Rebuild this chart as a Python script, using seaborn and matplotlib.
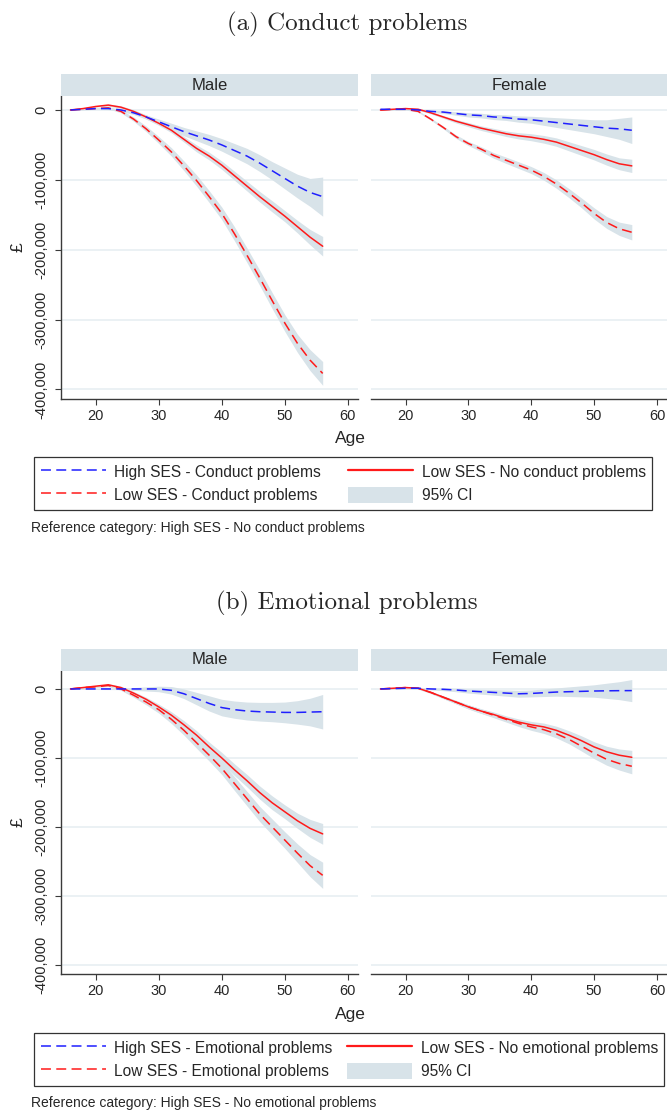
import numpy as np
import pandas as pd
import seaborn as sns
import matplotlib
matplotlib.use("Agg")
import matplotlib.pyplot as plt
from matplotlib.lines import Line2D
from matplotlib.patches import Patch, Rectangle

# ---------------- data ----------------
ages = [16, 18, 20, 22, 24, 26, 28, 30, 32, 34, 36, 38, 40, 42, 44, 46, 48, 50, 52, 54, 56]

# (a) Conduct problems - Male
cm_hs_cp = [0, 1000, 2000, 2000, 0, -4000, -10000, -17000, -24000, -31000, -37000, -43000, -50000, -58000, -66000, -76000, -87000, -98000, -109000, -118000, -124000]
cm_hs_cp_hw = [500, 800, 1000, 1500, 2000, 2500, 3000, 4000, 5000, 6000, 7000, 8000, 9000, 10000, 11000, 12000, 13000, 15000, 17000, 20000, 28000]
cm_ls_cp = [0, 1000, 2000, 3000, -2000, -13000, -27000, -43000, -60000, -80000, -101000, -124000, -148000, -177000, -208000, -240000, -273000, -305000, -334000, -358000, -377000]
cm_ls_cp_hw = [500, 800, 1000, 1500, 2000, 3000, 4000, 5000, 6000, 7000, 8000, 8500, 9000, 10000, 10500, 11000, 11500, 12000, 13000, 15000, 17000]
cm_ls_nc = [0, 2000, 5000, 7000, 4000, -2000, -10000, -19000, -29000, -42000, -55000, -66000, -79000, -94000, -109000, -124000, -138000, -152000, -167000, -182000, -195000]
cm_ls_nc_hw = [500, 800, 1000, 1500, 2000, 2500, 3000, 3000, 3500, 4000, 5000, 5500, 6000, 6500, 7000, 7500, 8000, 8000, 9000, 11000, 14000]

# (a) Conduct problems - Female
cf_hs_cp = [1000, 1000, 1000, 0, -2000, -3000, -5000, -7000, -8000, -10000, -11000, -13000, -14000, -16000, -18000, -20000, -22000, -24000, -26000, -27000, -29000]
cf_hs_cp_hw = [500, 800, 1000, 1200, 1500, 2000, 2500, 3000, 3300, 3700, 4000, 4500, 5000, 6000, 7000, 8000, 9000, 10000, 12000, 15000, 19000]
cf_ls_cp = [0, 1000, 1000, -2000, -13000, -25000, -38000, -48000, -56000, -65000, -72000, -79000, -86000, -95000, -106000, -119000, -133000, -148000, -161000, -170000, -175000]
cf_ls_cp_hw = [500, 800, 1000, 1200, 1500, 2000, 2500, 3000, 3500, 4000, 4500, 4800, 5000, 5500, 6000, 6500, 7000, 8000, 8500, 9500, 11000]
cf_ls_nc = [0, 1000, 2000, 1000, -4000, -10000, -16000, -21000, -26000, -30000, -34000, -37000, -39000, -42000, -46000, -52000, -58000, -64000, -71000, -77000, -80000]
cf_ls_nc_hw = [500, 800, 1000, 1200, 1500, 2000, 2500, 3000, 3300, 3700, 4000, 4500, 5000, 5500, 6000, 6500, 7000, 7500, 8000, 8500, 9500]

# (b) Emotional problems - Male
em_hs_ep = [0, 0, 0, 0, 0, 0, 0, 0, -2000, -7000, -14000, -21000, -27000, -30000, -32000, -33000, -33500, -34000, -34000, -33500, -33000]
em_hs_ep_hw = [500, 700, 800, 900, 1000, 2000, 3000, 4000, 5500, 7000, 9000, 11000, 12000, 12500, 13000, 13500, 14000, 15000, 17000, 20000, 25000]
em_ls_ep = [0, 2000, 3000, 5000, 0, -9000, -19000, -30000, -44000, -60000, -78000, -96000, -115000, -137000, -159000, -181000, -200000, -219000, -238000, -256000, -270000]
em_ls_ep_hw = [500, 800, 1000, 1500, 2000, 3000, 4000, 5000, 6000, 7000, 8000, 8500, 9000, 10000, 10500, 11000, 11500, 12000, 13500, 16000, 19000]
em_ls_ne = [0, 2000, 4000, 6000, 2000, -6000, -15000, -26000, -38000, -52000, -67000, -84000, -100000, -117000, -133000, -150000, -165000, -178000, -191000, -202000, -210000]
em_ls_ne_hw = [500, 800, 1000, 1500, 2000, 2500, 3000, 4000, 5000, 6000, 6500, 7000, 8000, 8500, 9000, 9500, 10000, 10000, 11000, 13000, 15000]

# (b) Emotional problems - Female
ef_hs_ep = [0, 500, 1000, 1000, 0, -500, -1500, -3000, -4000, -5000, -6000, -7000, -6500, -5500, -4500, -4000, -3500, -3000, -2700, -2500, -2400]
ef_hs_ep_hw = [500, 700, 1000, 1200, 1500, 2000, 2500, 3000, 3500, 4000, 4500, 5000, 5000, 5500, 6000, 7000, 8000, 9000, 11000, 13000, 16000]
ef_ls_ep = [0, 1000, 2000, 1000, -5000, -12000, -19000, -26000, -32000, -38000, -44000, -50000, -55000, -59000, -65000, -73000, -83000, -93000, -102000, -108000, -112000]
ef_ls_ep_hw = [500, 800, 1000, 1200, 1500, 2000, 2500, 3000, 3300, 3700, 4000, 4500, 5000, 5500, 6000, 6500, 7000, 8000, 8500, 9500, 11000]
ef_ls_ne = [0, 1000, 2000, 1000, -5000, -12000, -19000, -26000, -32000, -37000, -43000, -48000, -52000, -55000, -60000, -67000, -75000, -84000, -91000, -96000, -99000]
ef_ls_ne_hw = [500, 800, 1000, 1200, 1500, 2000, 2500, 3000, 3300, 3700, 4000, 4500, 5000, 5500, 6000, 6500, 7000, 7500, 8000, 9000, 10000]

panel_titles = ["(a) Conduct problems", "(b) Emotional problems"]
facet_labels = ["Male", "Female"]
x_ticks = [20, 30, 40, 50, 60]
y_ticks = [0, -100000, -200000, -300000, -400000]
y_tick_labels = ["0", "-100,000", "-200,000", "-300,000", "-400,000"]
legend_a = ["High SES - Conduct problems", "Low SES - Conduct problems",
            "Low SES - No conduct problems", "95% CI"]
legend_b = ["High SES - Emotional problems", "Low SES - Emotional problems",
            "Low SES - No emotional problems", "95% CI"]
notes = ["Reference category: High SES - No conduct problems",
         "Reference category: High SES - No emotional problems"]

# ---------------- style ----------------
sns.set_style("white")
plt.rcParams["font.family"] = ["Liberation Sans", "DejaVu Sans"]

BLUE = "#1f1fff"
RED = "#ff1a1a"
CI = "#d8e3e9"
STRIP = "#d8e3e9"
GRID = "#e8eff2"
SPINE = "#3a3a3a"
DASH = (0, (6.5, 3.5))

W, H = 667, 1114
fig = plt.figure(figsize=(W / 100, H / 100), dpi=100)


def fy(px):
    return 1 - px / H


def fx(px):
    return px / W


def draw_block(series, labels, note, title, title_y, strip_top, plot_top, plot_bottom,
               ylim, age_y, leg_top, note_y, colspace):
    fig.text(fx(347), fy(title_y), title, ha="center", va="center",
             fontsize=18, family="cmr10")
    for i, (xl, xr) in enumerate([(61, 358), (371, 667)]):
        ax = fig.add_axes([fx(xl), fy(plot_bottom), fx(xr - xl), (plot_bottom - plot_top) / H])
        fig.add_artist(Rectangle((fx(xl), fy(plot_top)), fx(xr - xl), (plot_top - strip_top) / H,
                                 transform=fig.transFigure, facecolor=STRIP, lw=0))
        fig.text(fx((xl + xr) / 2), fy((strip_top + plot_top) / 2), facet_labels[i],
                 ha="center", va="center", fontsize=12)
        (s_hs, hw_hs), (s_lsp, hw_lsp), (s_lsn, hw_lsn) = series[i]
        a = np.array(ages)
        for s, hw in [(s_hs, hw_hs), (s_lsp, hw_lsp), (s_lsn, hw_lsn)]:
            s = np.array(s, float); hw = np.array(hw, float)
            ax.fill_between(a, s - hw, s + hw, color=CI, lw=0, zorder=1)
        df = pd.DataFrame({"age": ages, "hs": s_hs, "lsp": s_lsp, "lsn": s_lsn})
        sns.lineplot(data=df, x="age", y="lsn", ax=ax, color=RED, lw=1.1, zorder=3)
        sns.lineplot(data=df, x="age", y="lsp", ax=ax, color=RED, lw=1.1, zorder=3)
        ax.lines[-1].set_linestyle(DASH)
        sns.lineplot(data=df, x="age", y="hs", ax=ax, color=BLUE, lw=1.1, zorder=3)
        ax.lines[-1].set_linestyle(DASH)
        ax.set_xlim(14.5, 61.6)
        ax.set_ylim(ylim[1], ylim[0])
        ax.set_xticks(x_ticks)
        ax.set_yticks(y_ticks)
        ax.set_yticklabels(y_tick_labels)
        ax.set_xlabel("")
        ax.set_ylabel("")
        ax.yaxis.grid(True, color=GRID, lw=1.2)
        ax.xaxis.grid(False)
        ax.set_axisbelow(True)
        for sp in ["top", "right"]:
            ax.spines[sp].set_visible(False)
        for sp in ["left", "bottom"]:
            ax.spines[sp].set_color(SPINE)
            ax.spines[sp].set_linewidth(1.0)
        ax.tick_params(axis="x", length=4, width=0.8, color=SPINE, labelsize=10.5, pad=3,
                       bottom=True)
        ax.tick_params(axis="y", length=4, width=0.8, color=SPINE, labelsize=10.5, pad=5,
                       left=True)
        for lbl in ax.get_yticklabels():
            lbl.set_rotation(90)
            lbl.set_va("center")
        if i == 1:
            ax.spines["left"].set_visible(False)
            ax.tick_params(axis="y", left=False, labelleft=False)
        ax.set_facecolor("white")
    fig.text(fx(18), fy((plot_top + plot_bottom) / 2), "£", rotation=90, ha="center",
             va="center", fontsize=12.5)
    fig.text(fx(350), fy(age_y), "Age", ha="center", va="center", fontsize=12.5)

    handles = [Line2D([], [], color=BLUE, lw=1.1, linestyle=DASH),
               Line2D([], [], color=RED, lw=1.1, linestyle=DASH),
               Line2D([], [], color=RED, lw=1.6),
               Patch(facecolor=CI, edgecolor="none")]
    leg = fig.legend(handles, labels, loc="upper left",
                     bbox_to_anchor=(fx(34), fy(leg_top)), ncol=2, frameon=True,
                     fancybox=False, edgecolor="black", fontsize=11.2, handlelength=4.2,
                     handleheight=1.2, handletextpad=0.55, columnspacing=colspace,
                     labelspacing=0.45, borderpad=0.42, borderaxespad=0)
    leg.get_frame().set_linewidth(0.9)
    fig.text(fx(31), fy(note_y), note, ha="left", va="center", fontsize=10)


series_a = [
    [(cm_hs_cp, cm_hs_cp_hw), (cm_ls_cp, cm_ls_cp_hw), (cm_ls_nc, cm_ls_nc_hw)],
    [(cf_hs_cp, cf_hs_cp_hw), (cf_ls_cp, cf_ls_cp_hw), (cf_ls_nc, cf_ls_nc_hw)],
]
series_b = [
    [(em_hs_ep, em_hs_ep_hw), (em_ls_ep, em_ls_ep_hw), (em_ls_ne, em_ls_ne_hw)],
    [(ef_hs_ep, ef_hs_ep_hw), (ef_ls_ep, ef_ls_ep_hw), (ef_ls_ne, ef_ls_ne_hw)],
]

draw_block(series_a, legend_a, notes[0], panel_titles[0], 24, 74, 96, 399,
           (20000, -413600), 439, 457, 528, 1.7)
draw_block(series_b, legend_b, notes[1], panel_titles[1], 603, 649, 671, 974,
           (26000, -413000), 1015, 1033, 1103, 0.9)

fig.savefig("out.png", dpi=100)
